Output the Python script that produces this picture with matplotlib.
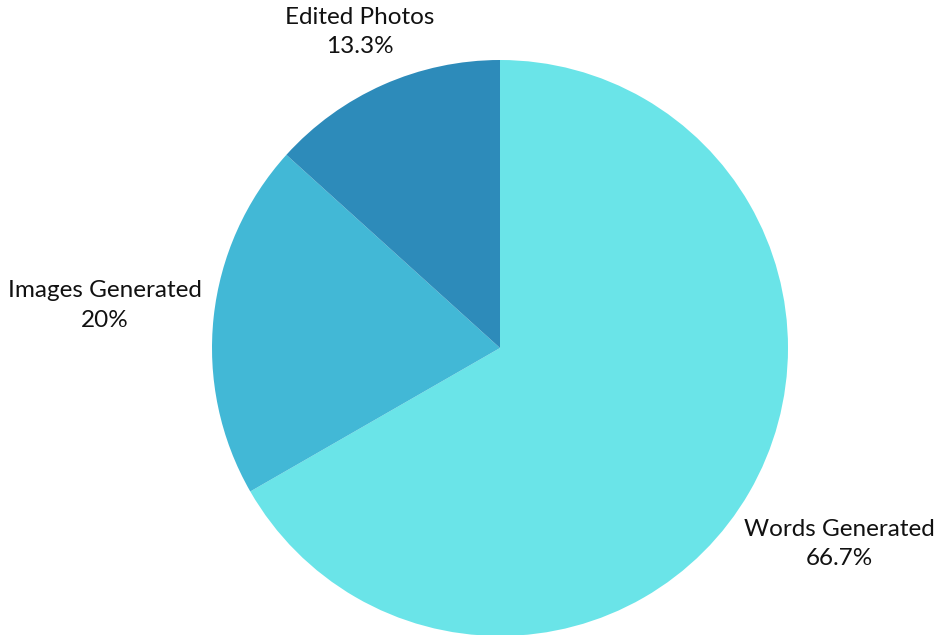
import numpy as np
import matplotlib.pyplot as plt

labels = ['Words Generated', 'Images Generated', 'Edited Photos']
values = [66.7, 20, 13.3]
pct_labels = ['66.7%', '20%', '13.3%']
colors = ['#6ae4e8', '#42b8d6', '#2d8bba']

fig = plt.figure(figsize=(9.44, 6.35), dpi=100)
ax = fig.add_axes([0, 0, 1, 1])

center = (500, 287)
radius = 288
wedges, _ = ax.pie(values, colors=colors, startangle=90, counterclock=False,
                   center=center, radius=radius, frame=True)
ax.set_xlim(0, 944)
ax.set_ylim(0, 635)
ax.set_aspect('equal')
ax.axis('off')

# distanza etichette (in raggi)
label_dist = [1.36, 1.38, 1.2]
for w, lab, pct, d in zip(wedges, labels, pct_labels, label_dist):
    ang = np.deg2rad((w.theta1 + w.theta2) / 2)
    x = center[0] + d * radius * np.cos(ang)
    y = center[1] + d * radius * np.sin(ang)
    ax.text(x, y, lab + '\n' + pct, ha='center', va='center', fontsize=17.5,
            family='Lato', color='#111111', linespacing=1.5)

fig.savefig('out.png', dpi=100)
